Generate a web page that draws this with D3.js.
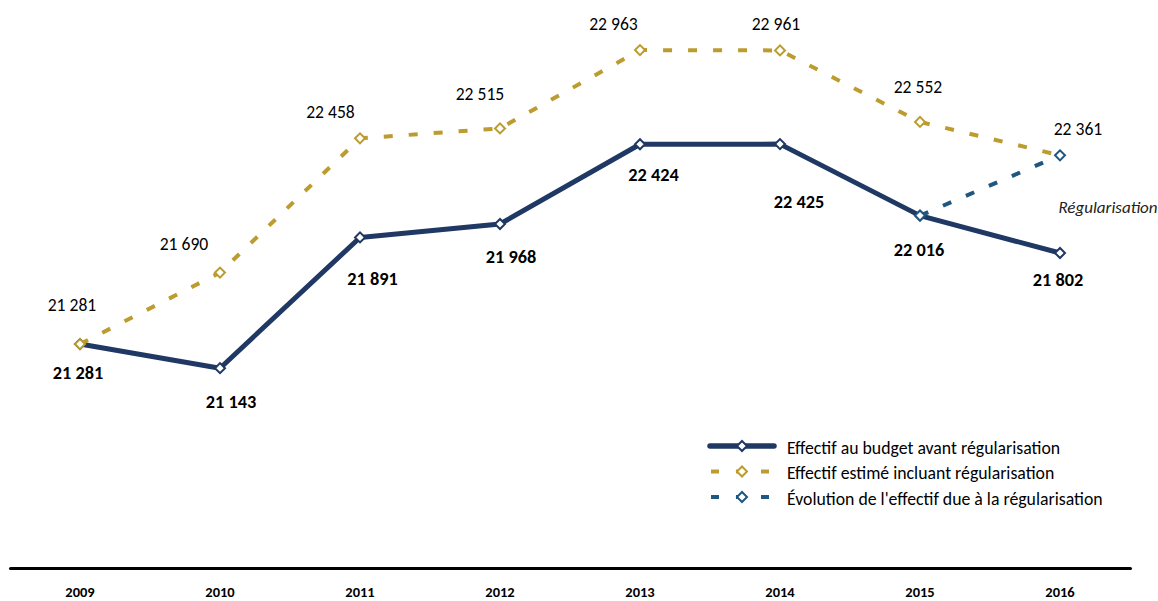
<!DOCTYPE html>
<html><head><meta charset="utf-8">
<script src="https://cdn.jsdelivr.net/npm/d3@7"></script>
<style>body{margin:0;background:#fff}svg{display:block;font-family:Carlito,Calibri,"Liberation Sans","Open Sans",sans-serif}</style>
</head><body><div id="chart"></div>
<script>
const years = ["2009","2010","2011","2012","2013","2014","2015","2016"];
const budget = [21281, 21143, 21891, 21968, 22424, 22425, 22016, 21802];
const estimated = [21281, 21690, 22458, 22515, 22963, 22961, 22552, 22361];
const regulYears = ["2015","2016"];
const regul = [22016, 22361];
const seriesNames = ["Effectif au budget avant régularisation","Effectif estimé incluant régularisation","Évolution de l'effectif due à la régularisation"];
// label offsets (layout only, px relative to the point)
const budgetLabelDx = [-2, 11, 12.5, 11, 13.5, 19, -1, -2];
const budgetLabelDy = [29, 33, 41.5, 33, 30, 57, 33.5, 27];
const estLabelDx = [-8, -36, -29.5, -20, -26.5, -4, -2, 18];
const estLabelDy = [-39, -28.5, -26.5, -34.5, -26, -26.5, -35, -26];

const W = 1158, H = 601;
const NAVY = "#203864", GOLD = "#bc9c2e", BLUE = "#1f5780";
const svg = d3.select("#chart").append("svg").attr("width", W).attr("height", H);

const x = d3.scaleBand().domain(years).range([10, 1130]);
const cx = d => x(d) + x.bandwidth() / 2;
const y = d3.scaleLinear().domain([20000, 23000]).range([568, 43.6]);

// axis
const xAxis = svg.append("g").attr("transform", "translate(0,568)")
  .call(d3.axisBottom(x).tickSize(0).tickPadding(19));
xAxis.select(".domain").attr("stroke", "#000").attr("stroke-width", 3).attr("stroke-linecap", "round");
xAxis.selectAll("text").attr("font-size", 14.5).attr("font-weight", "bold").attr("fill", "#000")
  .attr("font-family", "Carlito,Calibri,'Liberation Sans',sans-serif");

const line = d3.line().x(d => cx(d[0])).y(d => y(d[1]));

function drawSeries(cats, vals, color, width, dash) {
  const pts = cats.map((c, i) => [c, vals[i]]);
  svg.append("path").datum(pts).attr("d", line).attr("fill", "none")
    .attr("stroke", color).attr("stroke-width", width)
    .attr("stroke-dasharray", dash).attr("stroke-linejoin", "round");
}
function drawMarkers(cats, vals, color) {
  svg.append("g").selectAll("path").data(cats.map((c, i) => [c, vals[i]])).join("path")
    .attr("d", d3.symbol().type(d3.symbolSquare).size(50))
    .attr("transform", d => `translate(${cx(d[0])},${y(d[1])}) rotate(45)`)
    .attr("fill", "#fff").attr("stroke", color).attr("stroke-width", 2);
}

drawSeries(years, budget, NAVY, 5, null);
drawMarkers(years, budget, NAVY);
drawSeries(years, estimated, GOLD, 4, "9,16");
drawMarkers(years.slice(0, 7), estimated.slice(0, 7), GOLD);
drawSeries(regulYears, regul, BLUE, 4, "9,16");
drawMarkers(regulYears, regul, BLUE);

const fmt = v => d3.format(",")(v).replace(",", " ");
// labels
svg.append("g").selectAll("text").data(years).join("text")
  .attr("x", (d, i) => cx(d) + budgetLabelDx[i])
  .attr("y", (d, i) => y(budget[i]) + budgetLabelDy[i])
  .attr("dy", "0.35em").attr("text-anchor", "middle")
  .attr("font-size", 18.3).attr("font-weight", "bold").attr("fill", "#000")
  .text((d, i) => fmt(budget[i]));
svg.append("g").selectAll("text").data(years).join("text")
  .attr("x", (d, i) => cx(d) + estLabelDx[i])
  .attr("y", (d, i) => y(estimated[i]) + estLabelDy[i])
  .attr("dy", "0.35em").attr("text-anchor", "middle")
  .attr("font-size", 17.6).attr("fill", "#000")
  .text((d, i) => fmt(estimated[i]));
svg.append("text").attr("x", cx("2016") + 48).attr("y", y(22016) - 9).attr("dy", "0.35em")
  .attr("text-anchor", "middle").attr("font-size", 17).attr("font-style", "italic").attr("fill", "#222")
  .text("Régularisation");

// legend
const legend = svg.append("g").attr("transform", "translate(708,446)");
const legItems = [
  {name: seriesNames[0], color: NAVY, solid: true},
  {name: seriesNames[1], color: GOLD, solid: false},
  {name: seriesNames[2], color: BLUE, solid: false}
];
legItems.forEach((it, i) => {
  const g = legend.append("g").attr("transform", `translate(0,${i * 25.5})`);
  if (it.solid) {
    g.append("line").attr("x1", 2).attr("x2", 66).attr("stroke", it.color).attr("stroke-width", 5.5).attr("stroke-linecap", "round");
  } else {
    g.append("line").attr("x1", 3).attr("x2", 66).attr("stroke", it.color).attr("stroke-width", 4).attr("stroke-dasharray", "8,17");
  }
  g.append("path").attr("d", d3.symbol().type(d3.symbolSquare).size(50)).attr("transform", "translate(34,0) rotate(45)")
    .attr("fill", "#fff").attr("stroke", it.color).attr("stroke-width", 2);
  g.append("text").attr("x", 79).attr("y", 1.5).attr("dy", "0.35em").attr("font-size", 17.75).attr("fill", "#000").text(it.name);
});
</script></body></html>
